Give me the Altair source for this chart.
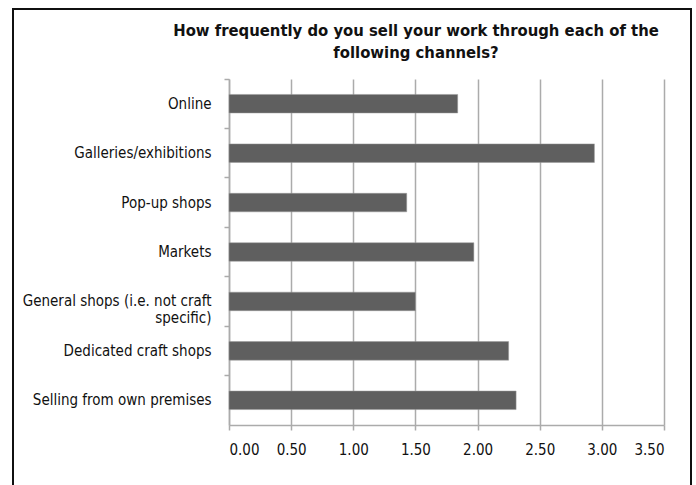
import altair as alt
import pandas as pd

categories = [
    "Online",
    "Galleries/exhibitions",
    "Pop-up shops",
    "Markets",
    "General shops (i.e. not craft specific)",
    "Dedicated craft shops",
    "Selling from own premises",
]
values = [1.84, 2.94, 1.43, 1.97, 1.50, 2.25, 2.31]
x_ticks = [0, 0.5, 1.0, 1.5, 2.0, 2.5, 3.0, 3.5]
title_lines = ["How frequently do you sell your work through each of the", "following channels?"]

df = pd.DataFrame({"channel": categories, "value": values})
tdf = pd.DataFrame({"line": title_lines, "i": [0, 1]})

FONT = "DejaVu Sans Condensed, sans-serif"
W, H = 435, 346

bars = alt.Chart(df).mark_bar(
    color="#5f5f5f", stroke="#9a9a9a", strokeWidth=0.5,
    height=alt.RelativeBandSize(band=0.375),
).encode(
    x=alt.X("value:Q",
            scale=alt.Scale(domain=[0, 3.5], nice=False, zero=True),
            axis=alt.Axis(values=x_ticks, format=".2f", title=None,
                          grid=True, gridColor="#ababab", gridWidth=1.5,
                          domainColor="#ababab", domainWidth=1.5,
                          ticks=True, tickColor="#ababab", tickWidth=1.5, tickSize=5,
                          labelPadding=12, labelFontSize=15, labelFont=FONT,
                          labelColor="#111111")),
    y=alt.Y("channel:N", sort=categories,
            scale=alt.Scale(paddingInner=0, paddingOuter=0),
            axis=alt.Axis(title=None, bandPosition=0, ticks=True,
                          labelExpr="datum.value == 'General shops (i.e. not craft specific)' ? ['General shops (i.e. not craft', 'specific)'] : datum.value",
                          labelLineHeight=17,
                          domainColor="#ababab", domainWidth=1.5,
                          tickColor="#ababab", tickWidth=1.5, tickSize=5,
                          labelPadding=13, labelFontSize=15, labelFont=FONT,
                          labelColor="#111111", labelLimit=300)),
)

frame = alt.Chart(df).mark_rect(fill=None, stroke="#111111", strokeWidth=1.5).encode(
    x=alt.value(-216), x2=alt.value(462), y=alt.value(-70), y2=alt.value(440)
)

title = alt.Chart(tdf).mark_text(
    font=FONT, fontSize=16.5, fontWeight="bold", color="#111111",
    align="center", baseline="alphabetic",
).encode(
    text="line:N",
    x=alt.value(187),
    y=alt.Y("i:Q", scale=alt.Scale(domain=[0, 1], range=[-43, -21]), axis=None),
)

chart = alt.layer(frame, bars, title).properties(
    width=W, height=H,
    autosize=alt.AutoSizeParams(type="none"),
    padding={"left": 229, "top": 79, "right": 32, "bottom": 60},
).resolve_scale(y="independent").configure_view(stroke=None)

chart.save("out.html", embed_options={"renderer": "svg", "actions": False})
